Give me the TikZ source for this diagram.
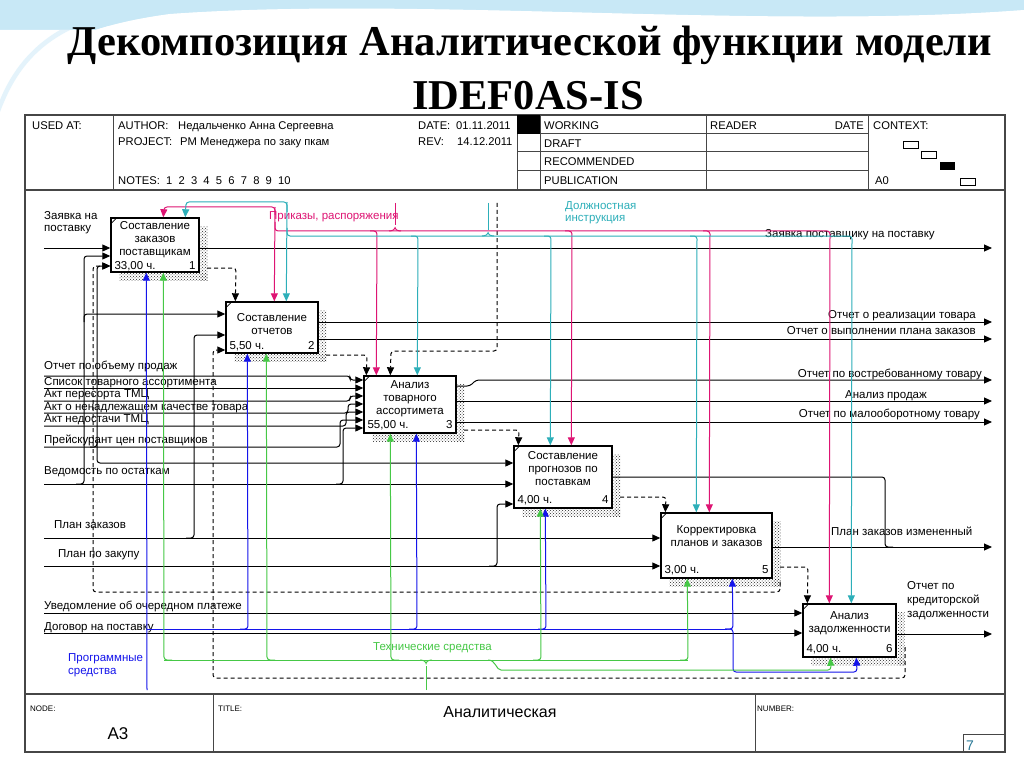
\documentclass[tikz,border=0pt]{standalone}
\usepackage{fontspec}
\setmainfont{Liberation Serif}
\setsansfont{Liberation Sans}
\usetikzlibrary{arrows.meta,patterns,calc}
\definecolor{mag}{RGB}{222,20,115}
\definecolor{cya}{RGB}{45,175,185}
\definecolor{blu}{RGB}{20,20,235}
\definecolor{grn}{RGB}{70,200,70}
\definecolor{frm}{RGB}{70,70,70}
\definecolor{sky}{RGB}{200,232,246}
\definecolor{numc}{RGB}{40,120,150}
\tikzset{
 lab/.style={font=\sffamily\fontsize{11.5}{13}\selectfont, inner sep=0pt, anchor=base west},
 labr/.style={lab, anchor=base east},
 hdr/.style={font=\sffamily\fontsize{11.2}{13}\selectfont, inner sep=0pt, anchor=base west},
 ftr/.style={font=\sffamily\fontsize{8}{10}\selectfont, inner sep=0pt, anchor=base west},
 fbox/.style={draw, line width=1.4pt, fill=white, inner sep=0pt},
 btx/.style={font=\sffamily\fontsize{11.5}{12.8}\selectfont, align=center, inner sep=0pt, anchor=north},
 shad/.style={pattern=crosshatch dots, pattern color=black!85},
 ln/.style={line width=1pt, rounded corners=3pt},
 tip/.style={-{Triangle[length=8pt,width=7pt]}},
 dsh/.style={ln, dash pattern=on 4pt off 3pt},
 mg/.style={ln, draw=mag, line width=1pt},
 cy/.style={ln, draw=cya, line width=1pt},
 bl/.style={ln, draw=blu, line width=1pt},
 gr/.style={ln, draw=grn, line width=1pt},
 mtip/.style={-{Triangle[length=8pt,width=7pt,fill=mag]}},
 ctip/.style={-{Triangle[length=8pt,width=7pt,fill=cya]}},
 btip/.style={-{Triangle[length=8pt,width=7pt,fill=blu]}},
 gtip/.style={-{Triangle[length=8pt,width=7pt,fill=grn]}},
}
\begin{document}
\begin{tikzpicture}[x=1pt,y=-1pt]
\useasboundingbox (0,0) rectangle (1024,767);
\fill[white] (0,0) rectangle (1024,767);
% top decoration
\fill[sky!70] (0,0) rectangle (1024,26);
\fill[sky] (0,0) -- (0,112) .. controls (15,70) and (50,30) .. (170,14) .. controls (420,-4) and (760,30) .. (1024,10) -- (1024,0) -- cycle;
\fill[white,opacity=0.7] (0,60) .. controls (120,18) and (500,30) .. (1024,16) -- (1024,22) .. controls (500,38) and (140,28) .. (0,75) -- cycle;
\fill[white] (0,112) .. controls (15,70) and (50,30) .. (170,14) .. controls (420,-4) and (760,30) .. (1024,10) -- (1024,30) -- (0,30) -- cycle;
\fill[white] (0,30) rectangle (1024,112);
\fill[sky!60,opacity=0.8] (0,112) .. controls (12,80) and (30,50) .. (70,30) -- (60,30) .. controls (25,50) and (8,80) .. (0,100) -- cycle;
% title
\node[font=\bfseries\fontsize{42.5}{46}\selectfont, inner sep=0pt] (t1) at (530,45) {Декомпозиция Аналитической функции модели};
\node[font=\bfseries\fontsize{42.5}{46}\selectfont, inner sep=0pt] (t2) at (528,96) {IDEF0AS-IS};
% frame
\draw[frm, line width=1.2pt] (25,115) rectangle (1005,752);
\draw[frm, line width=1.2pt] (25,190) -- (1005,190);
\draw[frm, line width=1.2pt] (25,694) -- (1005,694);
\foreach \xx in {113,517,540,706,868} \draw[frm, line width=1pt] (\xx,115) -- (\xx,190);
\foreach \yy in {134,152,171} \draw[frm, line width=1pt] (517,\yy) -- (868,\yy);
\fill[black] (517,115) rectangle (540,134);
\draw[frm, line width=1pt] (213,694) -- (213,752);
\draw[frm, line width=1pt] (755,694) -- (755,752);
\draw[frm, line width=1pt] (963,752) -- (963,734) -- (1005,734);
% header texts
\node[hdr] (h1) at (32,130) {USED AT:};
\node[hdr] (h2) at (118,130) {AUTHOR:};
\node[hdr] (h2b) at (178,130) {Недальченко Анна Сергеевна};
\node[hdr] (h3) at (418,130) {DATE:};
\node[hdr] (h3b) at (456,130) {01.11.2011};
\node[hdr] (h4) at (118,146) {PROJECT:};
\node[hdr] (h4b) at (180,146) {PM Менеджера по заку пкам};
\node[hdr] (h5) at (418,146) {REV:};
\node[hdr] (h5b) at (457,146) {14.12.2011};
\node[hdr] (h6) at (118,185) {NOTES:\ \ 1\ \ 2\ \ 3\ \ 4\ \ 5\ \ 6\ \ 7\ \ 8\ \ 9\ \ 10};
\node[hdr] (h7) at (544,130) {WORKING};
\node[hdr] (h8) at (544,148) {DRAFT};
\node[hdr] (h9) at (544,166) {RECOMMENDED};
\node[hdr] (h10) at (544,185) {PUBLICATION};
\node[hdr] (h11) at (710,130) {READER};
\node[hdr, anchor=base east] (h12) at (864,130) {DATE};
\node[hdr] (h13) at (873,130) {CONTEXT:};
\node[hdr] (h14) at (875,185) {A0};
\draw[line width=0.8pt] (903,141) rectangle (918,148);
\draw[line width=0.8pt] (921,151) rectangle (936,158);
\fill[black] (940,162) rectangle (955,170);
\draw[line width=0.8pt] (960,178) rectangle (975,185);
% footer texts
\node[ftr] (f1) at (30,711) {NODE:};
\node[ftr] (f2) at (218,711) {TITLE:};
\node[ftr] (f3) at (757,711) {NUMBER:};
\node[font=\sffamily\fontsize{16}{18}\selectfont, inner sep=0pt] (f4) at (500,712) {Аналитическая};
\node[font=\sffamily\fontsize{17}{19}\selectfont, inner sep=0pt] (f5) at (118,734) {А3};
\node[font=\sffamily\fontsize{14}{16}\selectfont, inner sep=0pt, text=numc] (f6) at (970,746) {7};

% boxes
\node[fbox, minimum width=88pt, minimum height=54pt] (b1) at (155,245) {};
\node[fbox, minimum width=92pt, minimum height=51pt] (b2) at (272,327.5) {};
\node[fbox, minimum width=92pt, minimum height=57pt] (b3) at (410,404.5) {};
\node[fbox, minimum width=98pt, minimum height=62pt] (b4) at (563,477) {};
\node[fbox, minimum width=111pt, minimum height=65pt] (b5) at (716.5,545.5) {};
\node[fbox, minimum width=93pt, minimum height=53pt] (b6) at (849.5,630.5) {};
\foreach \b in {b1,b2,b3,b4,b5,b6}{
  \fill[shad] ($(\b.north east)+(1,9)$) rectangle ($(\b.south east)+(8,8)$);
  \fill[shad] ($(\b.south west)+(9,1)$) rectangle ($(\b.south east)+(8,8)$);
  \draw[line width=0.8pt] ($(\b.north west)+(0,7)$) -- ($(\b.north west)+(7,0)$);
}
\node[btx] (x1) at ($(b1.north)+(0,4)$) {Составление\\заказов\\поставщикам};
\node[btx] (x2) at ($(b2.north)+(0,12)$) {Составление\\отчетов};
\node[btx] (x3) at ($(b3.north)+(0,5)$) {Анализ\\товарного\\ассортимета};
\node[btx] (x4) at ($(b4.north)+(0,6)$) {Составление\\прогнозов по\\поставкам};
\node[btx] (x5) at ($(b5.north)+(0,13)$) {Корректировка\\планов и заказов};
\node[btx] (x6) at ($(b6.north)+(0,8)$) {Анализ\\задолженности};
\node[lab] (c1) at ($(b1.south west)+(4,-3)$) {33,00 ч.};
\node[labr] (n1) at ($(b1.south east)+(-4,-3)$) {1};
\node[lab] (c2) at ($(b2.south west)+(4,-4)$) {5,50 ч.};
\node[labr] (n2) at ($(b2.south east)+(-4,-4)$) {2};
\node[lab] (c3) at ($(b3.south west)+(4,-5)$) {55,00 ч.};
\node[labr] (n3) at ($(b3.south east)+(-4,-5)$) {3};
\node[lab] (c4) at ($(b4.south west)+(4,-5)$) {4,00 ч.};
\node[labr] (n4) at ($(b4.south east)+(-4,-5)$) {4};
\node[lab] (c5) at ($(b5.south west)+(4,-5)$) {3,00 ч.};
\node[labr] (n5) at ($(b5.south east)+(-4,-5)$) {5};
\node[lab] (c6) at ($(b6.south west)+(4,-5)$) {4,00 ч.};
\node[labr] (n6) at ($(b6.south east)+(-4,-5)$) {6};

% left labels
\node[lab] (l1) at (44,219) {Заявка на};
\node[lab] (l1b) at (44,232) {поставку};
\node[lab] (l2) at (44,369) {Отчет по объему  продаж};
\node[lab] (l3) at (44,385) {Список товарного ассортимента};
\node[lab] (l4) at (44,397) {Акт пересорта ТМЦ};
\node[lab] (l5) at (44,410) {Акт о ненадлежащем качестве товара};
\node[lab] (l6) at (44,422) {Акт недостачи ТМЦ};
\node[lab] (l7) at (44,443) {Прейскурант цен поставщиков};
\node[lab] (l8) at (44,474) {Ведомость по остаткам};
\node[lab] (l9) at (54,528) {План заказов};
\node[lab] (l10) at (58,557) {План по закупу};
\node[lab] (l11) at (44,609) {Уведомление об очередном платеже};
\node[lab] (l12) at (44,630) {Договор на поставку};
\node[lab, text=blu] (l13) at (68,661) {Программные};
\node[lab, text=blu] (l13b) at (68,674) {средства};
\node[lab, text=grn] (l14) at (373,650) {Технические средства};
\node[lab, text=mag] (l15) at (269,219) {Приказы, распоряжения};
\node[lab, text=cya] (l16) at (565,210) {Должностная};
\node[lab, text=cya] (l16b) at (565,222) {инструкция};
% right labels
\node[lab] (r1) at (765,237) {Заявка поставщику на поставку};
\node[labr] (r2) at (976,318) {Отчет о реализации товара};
\node[labr] (r3) at (976,334) {Отчет о выполнении плана заказов};
\node[labr] (r4) at (982,377) {Отчет по востребованному товару};
\node[labr] (r5) at (927,398) {Анализ продаж};
\node[labr] (r6) at (980,417) {Отчет по малооборотному товару};
\node[lab] (r7) at (831,535) {План заказов измененный};
\node[lab] (r8) at (907,589) {Отчет по};
\node[lab] (r8b) at (907,603) {кредиторской};
\node[lab] (r8c) at (907,617) {задолженности};

% free ends
\coordinate (i1) at (44,248);
\coordinate (i2) at (44,376);
\coordinate (i3) at (44,388);
\coordinate (i4) at (44,401);
\coordinate (i5) at (44,413);
\coordinate (i6) at (44,426);
\coordinate (i7) at (44,447);
\coordinate (i8) at (44,484);
\coordinate (i9) at (44,538);
\coordinate (i10) at (44,566);
\coordinate (i11) at (44,613);
\coordinate (i12) at (44,633);
\coordinate (o1) at (992,248);
\coordinate (o2) at (992,322);
\coordinate (o3) at (992,339);
\coordinate (o4) at (992,380);
\coordinate (o5) at (992,401);
\coordinate (o6) at (992,422);
\coordinate (o7) at (992,547);
\coordinate (o8) at (992,634);

% black inputs
\draw[ln,tip] (i1) -- (b1.west |- i1);
\draw[ln,tip] (i2) -- (350,376) -- (350,380) -- (b3.west |- 0,380);
\draw[ln,tip] (i3) -- (b3.west |- i3);
\draw[ln,tip] (i4) -- (350,401) -- (350,396) -- (b3.west |- 0,396);
\draw[ln,tip] (i5) -- (348,413) -- (348,404) -- (b3.west |- 0,404);
\draw[ln,tip] (i6) -- (346,426) -- (346,412) -- (b3.west |- 0,412);
\draw[ln,tip] (i7) -- (340,447) -- (340,420) -- (b3.west |- 0,420);
\draw[ln,tip] (90,447) -- (97,447) -- (97,266) -- (b1.west |- 0,266);
\draw[ln,tip] (97,440) -- (97,463) -- (b4.west |- 0,463);
\draw[ln,tip] (i8) -- (b4.west |- i8);
\draw[ln,tip] (336,484) -- (343,484) -- (343,428) -- (b3.west |- 0,428);
\draw[ln,tip] (76,484) -- (84,484) -- (84,256) -- (b1.west |- 0,256);
\draw[ln,tip] (84,322) -- (84,314) -- (b2.west |- 0,314);
\draw[ln,tip] (i9) -- (b5.west |- i9);
\draw[ln,tip] (186,538) -- (194,538) -- (194,335) -- (b2.west |- 0,335);
\draw[ln,tip] (i10) -- (b5.west |- i10);
\draw[ln,tip] (489,566) -- (497,566) -- (497,504) -- (b4.west |- 0,504);
\draw[ln,tip] (i11) -- (b6.west |- i11);
\draw[ln,tip] (i12) -- (b6.west |- i12);
% black outputs
\draw[ln,tip] (b1.east |- o1) -- (o1);
\draw[ln,tip] (b2.east |- o2) -- (o2);
\draw[ln,tip] (b2.east |- o3) -- (o3);
\draw[ln,tip] (b3.east |- 0,386) -- (470,386) -- (476,380) -- (o4);
\draw[ln,tip] (b3.east |- o5) -- (o5);
\draw[ln,tip] (b3.east |- o6) -- (o6);
\draw[ln] (b4.east |- 0,477) -- (885,477) -- (885,547) -- (893,547);
\draw[ln,tip] (b5.east |- o7) -- (o7);
\draw[ln,tip] (b6.east |- o8) -- (o8);
% dashed links
\draw[dsh,tip] (207,268) -- (236,268) -- ($(b2.north west)+(10,0)$);
\draw[dsh,tip] (326,355) -- (367,355) -- ($(b3.north west)+(3,0)$);
\draw[dsh,tip] (497,203) -- (497,351) -- (391,351) -- ($(b3.north west)+(27,0)$);
\draw[dsh,tip] (464,430) -- (519,430) -- ($(b4.north west)+(5,0)$);
\draw[dsh,tip] (620,497) -- (666,497) -- ($(b5.north west)+(5,0)$);
\draw[dsh,tip] (780,567) -- (808,567) -- ($(b6.north west)+(5,0)$);
\draw[dsh,tip] (780,582) -- (780,592) -- (93,592) -- (93,266) -- (b1.west |- 0,266);
\draw[dsh,tip] (905,647) -- (905,678) -- (213,678) -- (213,350) -- (b2.west |- 0,350);
% magenta
\draw[mg] (395,203) -- (395,225);
\draw[mg] (389,231) .. controls (393,231) and (395,229) .. (395,225) .. controls (395,229) and (397,231) .. (401,231);
\draw[mg,mtip] (275,222) -- (275,231) -- (830,231) -- ($(b6.north west)+(27,0)$);
\draw[mg,mtip] (370,231) -- (377,231) -- ($(b3.north west)+(13,0)$);
\draw[mg,mtip] (565,231) -- (572,231) -- ($(b4.north west)+(58,0)$);
\draw[mg,mtip] (703,231) -- (710,231) -- ($(b5.north west)+(49,0)$);
\draw[mg,mtip] (275,215) -- (275,207) -- (164,207) -- ($(b1.north west)+(53,0)$);
\draw[mg,mtip] (275,207) -- ($(b2.north west)+(49,0)$);
% cyan
\draw[cy] (488,203) -- (488,230);
\draw[cy] (482,236) .. controls (486,236) and (488,234) .. (488,230) .. controls (488,234) and (490,236) .. (494,236);
\draw[cy,ctip] (287,228) -- (287,236) -- (852,236) -- ($(b6.north west)+(49,0)$);
\draw[cy,ctip] (411,236) -- (418,236) -- ($(b3.north west)+(54,0)$);
\draw[cy,ctip] (544,236) -- (551,236) -- ($(b4.north west)+(37,0)$);
\draw[cy,ctip] (690,236) -- (697,236) -- ($(b5.north west)+(36,0)$);
\draw[cy,ctip] (287,212) -- (287,202) -- (186,202) -- ($(b1.north west)+(75,0)$);
\draw[cy,ctip] (287,202) -- ($(b2.north west)+(61,0)$);
% blue
\draw[bl,btip] (147,690) -- ($(b1.south west)+(36,0)$);
\draw[bl] (147,629) -- (727,629);
\draw[bl,btip] (240,629) -- (248,629) -- ($(b2.south west)+(22,0)$);
\draw[bl,btip] (409,629) -- (417,629) -- ($(b3.south west)+(53,0)$);
\draw[bl,btip] (538,629) -- (546,629) -- ($(b4.south west)+(32,0)$);
\draw[bl,btip] (725,629) -- (733,629) -- ($(b5.south west)+(72,0)$);
\draw[bl,btip] (725,629) -- (733,629) -- (733,672) -- (857,672) -- ($(b6.south west)+(54,0)$);
% green
\draw[gr] (426,690) -- (426,666);
\draw[gr] (420,660) .. controls (424,660) and (426,662) .. (426,666) .. controls (426,662) and (428,660) .. (432,660);
\draw[gr] (164,660) -- (688,660);
\draw[gr,gtip] (172,660) -- (164,660) -- ($(b1.south west)+(53,0)$);
\draw[gr,gtip] (275,660) -- (267,660) -- ($(b2.south west)+(41,0)$);
\draw[gr,gtip] (399,660) -- (391,660) -- ($(b3.south west)+(27,0)$);
\draw[gr,gtip] (533,660) -- (541,660) -- ($(b4.south west)+(27,0)$);
\draw[gr,gtip] (680,660) -- (688,660) -- ($(b5.south west)+(27,0)$);
\draw[gr,gtip] (488,660) .. controls (496,660) and (496,670) .. (504,670) -- (831,670) -- ($(b6.south west)+(28,0)$);
\end{tikzpicture}
\end{document}
